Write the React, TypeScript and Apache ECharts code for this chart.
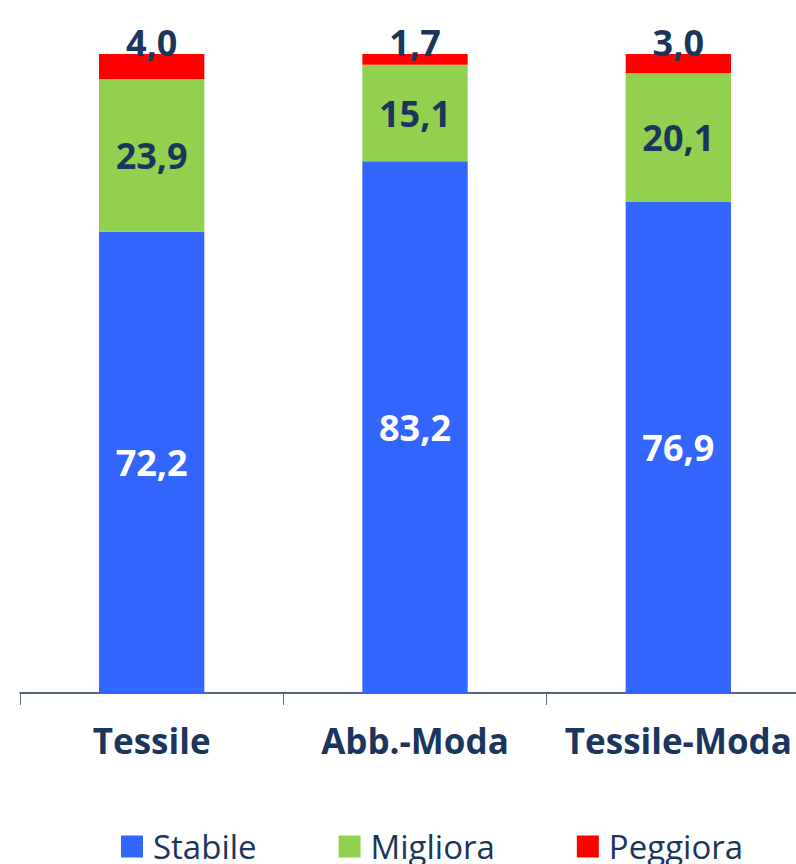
import React, { useEffect, useRef } from "react";
import * as echarts from "echarts";

const categories = ["Tessile", "Abb.-Moda", "Tessile-Moda"];
const stabile = [72.2, 83.2, 76.9];
const migliora = [23.9, 15.1, 20.1];
const peggiora = [4.0, 1.7, 3.0];

const NAVY = "#1B365D";
const FONT = "'Open Sans', sans-serif";
const fmt = (v: number) => v.toFixed(1).replace(".", ",");

export default function App() {
  const ref = useRef<HTMLDivElement>(null);
  useEffect(() => {
    if (!ref.current) return;
    const chart = echarts.init(ref.current, undefined, { renderer: "svg" });
    const labelBase = {
      show: true,
      fontFamily: FONT,
      fontWeight: "bold" as const,
      fontSize: 36,
      formatter: (p: any) => fmt(p.value),
    };
    chart.setOption({
      animation: false,
      backgroundColor: "#ffffff",
      grid: { left: 20, right: 0, top: 54, bottom: 171, containLabel: false },
      legend: {
        bottom: -4,
        left: 116,
        itemWidth: 22,
        itemHeight: 22,
        itemGap: 82,
        icon: "rect",
        textStyle: { fontFamily: FONT, fontSize: 33, color: NAVY, padding: [0, 0, 0, 5] },
        data: ["Stabile", "Migliora", "Peggiora"],
      },
      xAxis: {
        type: "category",
        data: categories,
        axisLine: { lineStyle: { color: NAVY, width: 1.5 } },
        axisTick: { show: true, length: 12, lineStyle: { color: "#5A7090" } },
        axisLabel: {
          interval: 0,
          fontFamily: FONT,
          fontWeight: "bold",
          fontSize: 35,
          color: NAVY,
          margin: 30,
        },
      },
      yAxis: {
        type: "value",
        min: 0,
        max: 100,
        show: false,
        splitLine: { show: false },
      },
      series: [
        {
          name: "Stabile",
          type: "bar",
          stack: "tot",
          barWidth: "40%",
          data: stabile,
          itemStyle: { color: "#3366FF" },
          label: { ...labelBase, position: "inside", color: "#ffffff" },
        },
        {
          name: "Migliora",
          type: "bar",
          stack: "tot",
          data: migliora,
          itemStyle: { color: "#92D050" },
          label: { ...labelBase, position: "inside", color: NAVY },
        },
        {
          name: "Peggiora",
          type: "bar",
          stack: "tot",
          data: peggiora,
          itemStyle: { color: "#FF0000" },
          label: { ...labelBase, position: "top", distance: -6, color: NAVY },
        },
      ],
    });
    return () => chart.dispose();
  }, []);
  return (
    <div
      style={{
        position: "fixed",
        left: 0,
        top: 0,
        width: 796,
        height: 864,
        overflow: "hidden",
        background: "#fff",
      }}
    >
      <div ref={ref} style={{ width: 810, height: 864 }} />
    </div>
  );
}
